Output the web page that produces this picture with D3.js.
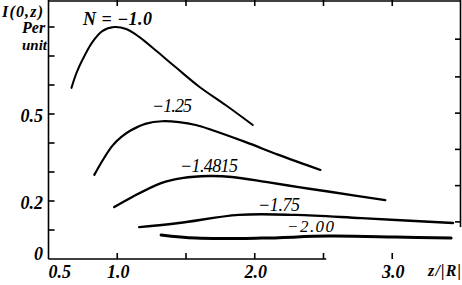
<!DOCTYPE html>
<html>
<head>
<meta charset="utf-8">
<script src="https://cdn.jsdelivr.net/npm/d3@7"></script>
<style>
  body { margin: 0; background: #fff; }
  svg { display: block; }
  text { font-family: "Liberation Serif", "DejaVu Serif", serif; font-style: italic; fill: #000; }
</style>
</head>
<body>
<svg id="chart" width="462" height="285"></svg>
<script>
// curve values, z/|R| against I(0,z)
const seriesN = ["N = \u22121.0", "\u22121.25", "\u22121.4815", "\u22121.75", "\u22122.00"];

const zN100 = [0.667, 0.703, 0.746, 0.819, 0.891, 0.978, 1.065, 1.159, 1.283, 1.428, 1.594, 1.790, 1.986];
const iN100 = [0.590, 0.641, 0.686, 0.748, 0.786, 0.800, 0.793, 0.766, 0.718, 0.660, 0.595, 0.530, 0.462];

const zN125 = [0.833, 0.891, 0.964, 1.030, 1.100, 1.210, 1.326, 1.449, 1.572, 1.688, 1.935, 2.174, 2.478];
const iN125 = [0.290, 0.338, 0.390, 0.421, 0.444, 0.467, 0.475, 0.472, 0.462, 0.445, 0.403, 0.359, 0.307];

const zN148 = [0.978, 1.109, 1.319, 1.471, 1.667, 1.833, 2.080, 2.319, 2.558, 2.949];
const iN148 = [0.179, 0.214, 0.262, 0.279, 0.286, 0.283, 0.266, 0.248, 0.231, 0.203];

const zN175 = [1.159, 1.449, 1.884, 2.297, 2.775, 3.442];
const iN175 = [0.110, 0.124, 0.152, 0.152, 0.141, 0.124];

const zN200 = [1.319, 1.572, 2.051, 2.536, 3.022, 3.428];
const iN200 = [0.083, 0.072, 0.072, 0.079, 0.076, 0.072];

const xTicks = [1.0, 1.5, 2.0, 2.5, 3.0];
const xTickLabels = ["0.5", "1.0", "2.0", "3.0"];
const yTicksLeft = [0.1, 0.2, 0.3, 0.4, 0.5, 0.6, 0.7, 0.8];
const yTickLabels = ["0", "0.2", "0.5"];
const yTicksRight = [0.128, 0.253, 0.378, 0.503, 0.628, 0.758];

// where each curve's N label sits, in data units (left end, baseline)
const labelZ = [0.751, 1.253, 1.456, 2.024, 2.235];
const labelI = [0.807, 0.507, 0.300, 0.166, 0.093];

const svg = d3.select("#chart");

const x = d3.scaleLinear().domain([0.5, 3.5]).range([48.5, 461]);
const y = d3.scaleLinear().domain([0, 0.5]).range([259, 114]);

const zs = [zN100, zN125, zN148, zN175, zN200];
const is = [iN100, iN125, iN148, iN175, iN200];
const widths = [2, 2.2, 2.4, 2.4, 3];
const labelFont = [18, 18, 18, 18, 17];
const labelLen = [69, 40, 58, 42, 47];

// frame
const frame = svg.append("g").attr("stroke", "#000").attr("stroke-width", 1.6).attr("fill", "none");
frame.append("line").attr("x1", x(0.5)).attr("x2", x(0.5)).attr("y1", 0).attr("y2", y(0));
frame.append("line").attr("x1", x(0.5)).attr("x2", x(3.5)).attr("y1", 1).attr("y2", 1);
frame.append("line").attr("x1", x(0.5)).attr("x2", x(2.52)).attr("y1", y(0)).attr("y2", y(0));
frame.append("line").attr("x1", x(3.5) - 0.5).attr("x2", x(3.5) - 0.5).attr("y1", 0).attr("y2", y(0.11));

// ticks on all four sides, pointing inwards
frame.selectAll(".tb").data(xTicks).join("line")
  .attr("x1", d => x(d)).attr("x2", d => x(d))
  .attr("y1", y(0)).attr("y2", y(0) - 6);
frame.selectAll(".tt").data(xTicks).join("line")
  .attr("x1", d => x(d)).attr("x2", d => x(d))
  .attr("y1", 0).attr("y2", 6);
frame.selectAll(".tl").data(yTicksLeft).join("line")
  .attr("x1", x(0.5)).attr("x2", x(0.5) + 6)
  .attr("y1", d => y(d)).attr("y2", d => y(d));
frame.selectAll(".tr").data(yTicksRight).join("line")
  .attr("x1", x(3.5)).attr("x2", x(3.5) - 6)
  .attr("y1", d => y(d)).attr("y2", d => y(d));

// tick labels
svg.append("g").selectAll("text").data(yTickLabels).join("text")
  .attr("x", 43).attr("text-anchor", "end")
  .attr("y", d => Math.min(y(+d) + 8, y(0) + 1))
  .attr("font-size", 18).attr("font-weight", "bold")
  .text(d => d);

svg.append("g").selectAll("text").data(xTickLabels).join("text")
  .attr("x", d => +d === 0.5 ? x(0.5) : x(+d) + 1)
  .attr("text-anchor", d => +d === 0.5 ? "start" : "middle")
  .attr("y", 278)
  .attr("font-size", 18).attr("font-weight", "bold")
  .text(d => d);

svg.append("text").attr("x", 461).attr("y", 276).attr("text-anchor", "end")
  .attr("font-size", 16).attr("font-weight", "bold")
  .attr("textLength", 33).attr("lengthAdjust", "spacing").text("z/|R|");

// y axis title
const title = svg.append("g").attr("font-weight", "bold");
title.append("text").attr("x", 2).attr("y", 17).attr("font-size", 16)
  .attr("textLength", 41).attr("lengthAdjust", "spacing").text("I(0,z)");
title.append("text").attr("x", 22).attr("y", 33).attr("font-size", 16).text("Per");
title.append("text").attr("x", 22).attr("y", 50).attr("font-size", 15).text("unit");

// curves
const line = d3.line()
  .x(d => x(d[0]))
  .y(d => y(d[1]))
  .curve(d3.curveCatmullRom.alpha(0.5));

svg.append("g").selectAll("path").data(zs.map((z, k) => d3.zip(z, is[k]))).join("path")
  .attr("d", line)
  .attr("fill", "none")
  .attr("stroke", "#000")
  .attr("stroke-width", (d, k) => widths[k])
  .attr("stroke-linecap", "round");

svg.append("g").selectAll("text").data(seriesN).join("text")
  .attr("x", (d, k) => x(labelZ[k]))
  .attr("y", (d, k) => y(labelI[k]))
  .attr("font-size", (d, k) => labelFont[k])
  .attr("font-weight", (d, k) => k === 0 ? "bold" : "normal")
  .attr("textLength", (d, k) => labelLen[k])
  .attr("lengthAdjust", "spacing")
  .text(d => d);
</script>
</body>
</html>
